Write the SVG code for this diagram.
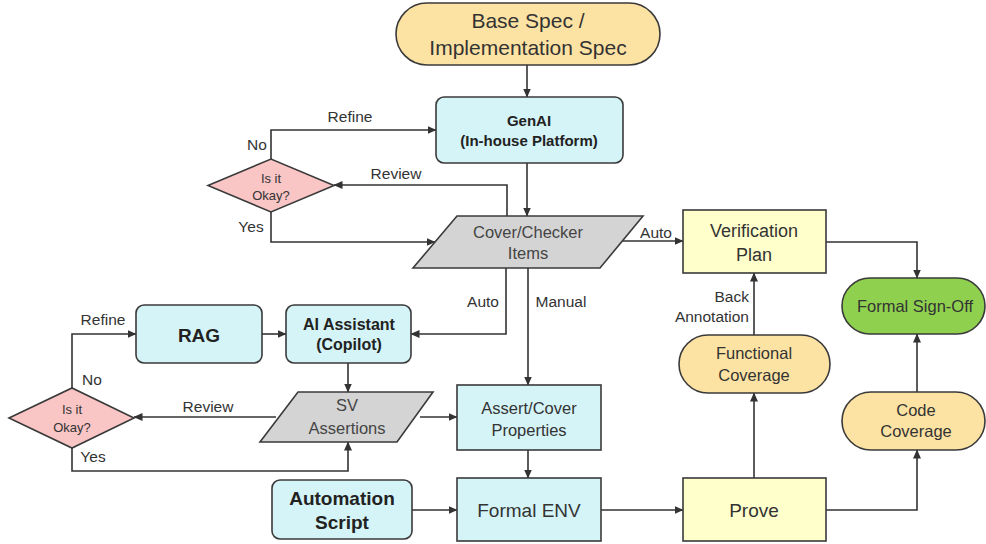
<svg xmlns="http://www.w3.org/2000/svg" width="986" height="544" viewBox="0 0 986 544">
<defs>
<marker id="ah" markerWidth="9" markerHeight="8" refX="8.5" refY="4" orient="auto" markerUnits="userSpaceOnUse">
<path d="M0,0 L9,4 L0,8 z" fill="#333"/>
</marker>
<style>
.n{stroke:#3a3a3a;stroke-width:1.6}
.cy{fill:#d5f4f7}
.ye{fill:#ffffcc}
.or{fill:#fde3a3}
.gr{fill:#8fd14f}
.pk{fill:#f9c5c5}
.gy{fill:#d4d4d4}
text{font-family:"Liberation Sans",Arial,sans-serif;fill:#333;text-anchor:middle}
.b{font-weight:bold;fill:#222}
.l{font-size:15.5px}
.c{stroke:#333;stroke-width:1.6;fill:none;marker-end:url(#ah)}
.cn{stroke:#333;stroke-width:1.6;fill:none}
</style>
</defs>
<rect width="986" height="544" fill="#fff"/>

<g id="connectors">
<path class="c" d="M527,65 V97"/>
<path class="c" d="M527,163 V216"/>
<path class="c" d="M271,159 V130 H436"/>
<path class="c" d="M507,216 V185 H334"/>
<path class="c" d="M271,212 V242 H435"/>
<path class="c" d="M622,241 H683"/>
<path class="c" d="M506,268 V334 H411"/>
<path class="c" d="M528,268 V385"/>
<path class="c" d="M262,334 H286"/>
<path class="c" d="M348,363 V392"/>
<path class="c" d="M420,417 H457"/>
<path class="c" d="M276,417 H134"/>
<path class="c" d="M72,388 V334 H136"/>
<path class="c" d="M72,448 V471 H348 V442"/>
<path class="c" d="M528,450 V478"/>
<path class="c" d="M412,510 H457"/>
<path class="c" d="M601,510 H683"/>
<path class="c" d="M754,478 V393"/>
<path class="c" d="M754,335 V273"/>
<path class="c" d="M826,242 H917 V278"/>
<path class="c" d="M826,510 H917 V450"/>
<path class="c" d="M917,392 V334"/>
</g>

<g id="labels">
<text class="l" x="350" y="122">Refine</text>
<text class="l" x="257" y="150">No</text>
<text class="l" x="396" y="179">Review</text>
<text class="l" x="251" y="232">Yes</text>
<text class="l" x="656" y="238">Auto</text>
<text class="l" x="483" y="307">Auto</text>
<text class="l" x="561" y="307">Manual</text>
<text class="l" x="103" y="325">Refine</text>
<text class="l" x="92" y="385">No</text>
<text class="l" x="208" y="412">Review</text>
<text class="l" x="93" y="462">Yes</text>
<text class="l" x="749" y="302" style="text-anchor:end">Back</text>
<text class="l" x="749" y="322" style="text-anchor:end">Annotation</text>
</g>

<g id="base-spec">
<rect class="n or" x="396" y="3" width="264" height="62" rx="31"/>
<text x="528" y="28" font-size="21">Base Spec /</text>
<text x="528" y="55" font-size="21">Implementation Spec</text>
</g>

<g id="genai">
<rect class="n cy" x="436" y="97" width="187" height="66" rx="8"/>
<text class="b" x="529" y="126" font-size="15">GenAI</text>
<text class="b" x="529" y="146" font-size="15">(In-house Platform)</text>
</g>

<g id="decision-1">
<polygon class="n pk" points="208,185.5 271,159 334,185.5 271,212"/>
<text x="271" y="183" font-size="13">Is it</text>
<text x="271" y="200" font-size="13">Okay?</text>
</g>

<g id="cover-checker">
<polygon class="n gy" points="457,216 643,216 600,268 413,268"/>
<text x="528" y="238" font-size="16.5" style="fill:#444">Cover/Checker</text>
<text x="528" y="259" font-size="16.5" style="fill:#444">Items</text>
</g>

<g id="verification-plan">
<rect class="n ye" x="683" y="210" width="143" height="63"/>
<text x="754" y="237" font-size="18">Verification</text>
<text x="754" y="261" font-size="18">Plan</text>
</g>

<g id="formal-signoff">
<rect class="n gr" x="842" y="278" width="143" height="56" rx="28"/>
<text x="915" y="312" font-size="16.5">Formal Sign-Off</text>
</g>

<g id="rag">
<rect class="n cy" x="136" y="305" width="126" height="58" rx="8"/>
<text class="b" x="199" y="342" font-size="19">RAG</text>
</g>

<g id="ai-assistant">
<rect class="n cy" x="286" y="305" width="125" height="58" rx="8"/>
<text class="b" x="349" y="330" font-size="16">AI Assistant</text>
<text class="b" x="349" y="350" font-size="16">(Copilot)</text>
</g>

<g id="functional-coverage">
<rect class="n or" x="679" y="335" width="151" height="58" rx="29"/>
<text x="754" y="359" font-size="16.5">Functional</text>
<text x="754" y="381" font-size="16.5">Coverage</text>
</g>

<g id="decision-2">
<polygon class="n pk" points="9,418 72,388 134,418 72,448"/>
<text x="72" y="414" font-size="13">Is it</text>
<text x="72" y="432" font-size="13">Okay?</text>
</g>

<g id="sv-assertions">
<polygon class="n gy" points="298,392 433,392 397,442 260,442"/>
<text x="347" y="411" font-size="16.5" style="fill:#444">SV</text>
<text x="347" y="434" font-size="16.5" style="fill:#444">Assertions</text>
</g>

<g id="assert-cover">
<rect class="n cy" x="457" y="385" width="144" height="65"/>
<text x="529" y="414" font-size="16.5">Assert/Cover</text>
<text x="529" y="436" font-size="16.5">Properties</text>
</g>

<g id="code-coverage">
<rect class="n or" x="842" y="392" width="143" height="58" rx="29"/>
<text x="916" y="416" font-size="16.5">Code</text>
<text x="916" y="437" font-size="16.5">Coverage</text>
</g>

<g id="automation-script">
<rect class="n cy" x="272" y="480" width="140" height="59" rx="8"/>
<text class="b" x="342" y="505" font-size="19">Automation</text>
<text class="b" x="342" y="529" font-size="19">Script</text>
</g>

<g id="formal-env">
<rect class="n cy" x="457" y="478" width="144" height="63"/>
<text x="529" y="517" font-size="19">Formal ENV</text>
</g>

<g id="prove">
<rect class="n ye" x="683" y="478" width="143" height="63"/>
<text x="754" y="517" font-size="19">Prove</text>
</g>
</svg>
